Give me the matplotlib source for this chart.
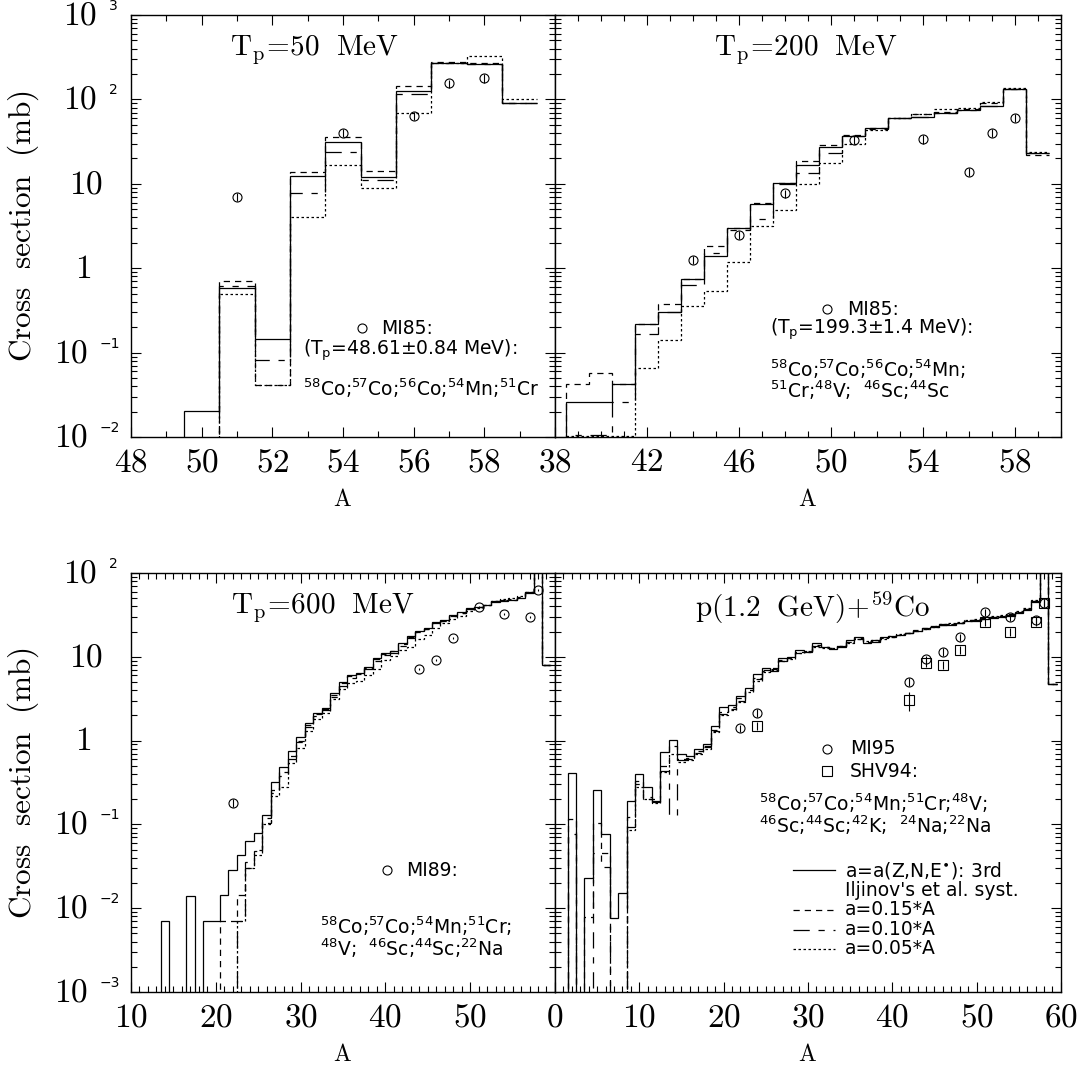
import numpy as np
import matplotlib
matplotlib.use("Agg")
import matplotlib.pyplot as plt
from matplotlib.ticker import MultipleLocator, LogLocator, NullFormatter

# serif (Computer Modern) for axes and titles, plain sans for the notes
plt.rcParams['mathtext.fontset'] = 'cm'
plt.rcParams['mathtext.rm'] = 'DejaVu Sans'
plt.rcParams['mathtext.it'] = 'DejaVu Sans:italic'
plt.rcParams['mathtext.bf'] = 'DejaVu Sans:bold'
plt.rcParams['mathtext.sf'] = 'DejaVu Sans'

# ---------------- T_p = 50 MeV ----------------
a_50 = np.arange(49, 60)
solid_50 = [0, 0.0205, 0.58, 0.144, 12.5, 31, 12.1, 127, 272, 263, 90]
d15_50 = [0, 0, 0.71, 0.041, 13.9, 35.6, 14.3, 145, 277, 270, 90]
d10_50 = [0, 0, 0.62, 0.082, 7.7, 24, 11.1, 116, 272, 265, 90]
d05_50 = [0, 0, 0.49, 0.041, 4.1, 16.7, 9.0, 70, 272, 330, 100]
mi85_50_a = [51, 54, 56, 57, 58]
mi85_50 = [7.0, 40, 64, 155, 178]
mi85_50_err = [0.8, 4.5, 7, 17, 20]

# ---------------- T_p = 200 MeV ----------------
a_200 = np.arange(38, 60)
solid_200 = [0, 0.026, 0.026, 0.042, 0.216, 0.305, 0.74, 1.41, 2.97, 5.7, 10.1,
             16.7, 27.5, 36.8, 46, 59.7, 62, 70, 75, 83.6, 132, 23]
d15_200 = [0, 0.042, 0.057, 0.042, 0.22, 0.38, 0.74, 1.83, 3.0, 5.97, 10.2,
           18.6, 28.8, 37.8, 46, 60.7, 67, 71.5, 78, 90, 132, 22]
d10_200 = [0, 0.0105, 0.0105, 0.026, 0.165, 0.30, 0.63, 1.5, 2.84, 3.8, 10,
           13.6, 23, 36.8, 45, 59.7, 62, 70, 75, 83.6, 132, 23]
d05_200 = [0, 0.0104, 0.0104, 0.0104, 0.065, 0.141, 0.356, 0.54, 1.19, 3.19, 4.9,
           9.9, 17.5, 30, 43, 60, 68, 78, 80, 94, 135, 24]
mi85_200_a = [44, 46, 48, 51, 54, 56, 57, 58]
mi85_200 = [1.25, 2.47, 7.7, 33, 33.7, 13.9, 40, 60]
mi85_200_err = [0.14, 0.27, 0.85, 3.6, 3.7, 1.5, 4.4, 6.6]

# ---------------- T_p = 600 MeV ----------------
a_600 = np.arange(13, 60)
solid_600 = [0, 0.0071, 0, 0, 0.0141, 0, 0.0071, 0.0071, 0.0143, 0.0286,
             0.043, 0.064, 0.080, 0.129, 0.323, 0.48, 0.76,
             1.11, 1.64, 2.15, 2.43, 3.66, 5.05, 6.06, 6.35, 7.63, 9.77,
             11.0, 11.8, 14.5, 17.7, 20.3, 21.9, 25.8, 27.5, 31.5, 33.9,
             37.9, 39.7, 41.5, 45.5, 46.8, 47.6, 49.9, 58.2, 119, 8.0]
d15_600 = [0, 0, 0, 0, 0, 0, 0, 0, 0.0071, 0.0071,
           0.0143, 0.030, 0.048, 0.105, 0.26, 0.42, 0.66,
           1.0, 1.55, 2.05, 2.4, 3.5, 4.8, 5.9, 6.3, 7.4, 9.5,
           10.8, 11.6, 14.2, 17.2, 20.0, 21.5, 25.2, 27.0, 31.0, 33.5,
           37.5, 39.8, 42.0, 46.0, 47.5, 48.5, 51.0, 59.0, 119, 8.0]
d10_600 = [0, 0, 0, 0, 0, 0, 0, 0, 0, 0,
           0.0071, 0.036, 0.050, 0.12, 0.24, 0.38, 0.60,
           0.95, 1.45, 1.95, 2.3, 3.3, 4.5, 5.6, 6.1, 7.2, 9.0,
           10.4, 11.2, 13.6, 16.8, 19.6, 21.2, 25.0, 26.8, 30.8, 33.2,
           37.3, 39.5, 41.8, 45.8, 47.2, 48.2, 50.5, 58.5, 119, 8.0]
d05_600 = [0, 0, 0, 0, 0, 0, 0, 0, 0, 0,
           0.0071, 0.030, 0.043, 0.10, 0.22, 0.28, 0.54,
           0.81, 1.3, 1.8, 2.15, 3.1, 4.1, 4.8, 5.2, 6.1, 7.1,
           9.2, 10.1, 11.9, 13.0, 16.5, 18.3, 21.9, 25.1, 28.5, 31.0,
           35.5, 38.5, 41.5, 46.5, 48.5, 50.5, 53.0, 60.0, 119, 8.0]
mi89_a = [22, 44, 46, 48, 51, 54, 57, 58]
mi89 = [0.18, 7.08, 9.16, 16.6, 39.6, 32, 29.6, 62.7]
mi89_err = [0.02, 0.2, 0.25, 0.45, 1.0, 0.9, 0.8, 1.7]

# ---------------- T_p = 1.2 GeV ----------------
a_1200 = np.arange(1, 60)
solid_1200 = [0, 0.414, 0, 0.0227, 0.258, 0.077, 0.0076, 0.0153, 0.19, 0.40,
              0.28, 0.187, 0.74, 1.02, 0.70, 0.65, 0.79, 0.91, 1.5, 2.54,
              2.66, 3.4, 4.28, 6.24, 7.28, 6.7, 9.6, 10.0, 12.0, 11.5,
              14.5, 13.0, 12.3, 13.0, 15.9, 17.0, 14.7, 15.1, 17.0, 17.7,
              18.2, 19.4, 20.5, 22.2, 22.9, 23.9, 24.0, 25.1, 26.7, 26.8,
              28.0, 28.8, 30.1, 30.7, 33.0, 36.2, 45.5, 108, 4.73]
d15_1200 = [0, 0.115, 0, 0.0079, 0.104, 0.046, 0, 0, 0.124, 0.33,
            0.2, 0.2, 0.5, 0.85, 0.6, 0.62, 0.75, 0.85, 1.35, 2.2,
            2.5, 3.2, 4.0, 5.6, 7.0, 7.4, 9.2, 9.8, 11.5, 11.8,
            13.8, 13.2, 12.6, 13.4, 15.2, 16.6, 15.0, 15.6, 16.8, 17.5,
            18.4, 19.0, 20.8, 21.8, 23.4, 24.2, 24.5, 25.6, 27.2, 27.5,
            28.8, 29.5, 31.0, 32.0, 34.0, 37.5, 46.5, 108, 4.73]
d10_1200 = [0, 0.076, 0, 0, 0.046, 0.031, 0, 0, 0.092, 0.3,
            0.21, 0.19, 0.43, 0.13, 0.58, 0.6, 0.72, 0.83, 1.3, 2.1,
            2.4, 3.0, 3.9, 5.4, 6.8, 7.2, 9.0, 9.6, 11.2, 11.6,
            13.5, 13.0, 12.8, 13.5, 15.0, 16.4, 15.4, 15.8, 16.6, 17.4,
            18.6, 19.2, 20.4, 21.6, 23.0, 24.4, 24.8, 25.4, 27.0, 27.8,
            28.6, 29.8, 30.6, 31.6, 34.5, 37.0, 46.0, 108, 4.73]
d05_1200 = [0, 0, 0, 0, 0, 0, 0, 0, 0.085, 0.28,
            0.2, 0.18, 0.42, 0.7, 0.55, 0.58, 0.7, 0.8, 1.25, 2.0,
            2.3, 2.9, 3.8, 5.2, 6.6, 7.0, 8.8, 9.4, 11.0, 11.4,
            13.2, 12.9, 12.9, 13.6, 14.8, 16.2, 15.6, 16.0, 16.5, 17.2,
            18.8, 19.4, 20.2, 21.4, 22.8, 24.6, 25.2, 25.8, 27.4, 28.2,
            29.0, 30.4, 31.2, 32.4, 35.0, 37.8, 47.0, 108, 4.73]
mi95_a = [22, 24, 42, 44, 46, 48, 51, 54, 57, 58]
mi95 = [1.4, 2.15, 5.05, 9.3, 11.5, 17.1, 34, 29.6, 27.5, 44.3]
mi95_err = [0.15, 0.23, 0.55, 1.0, 1.2, 1.8, 3.6, 3.1, 2.9, 4.6]
shv94_a = [24, 42, 44, 46, 48, 51, 54, 57, 58]
shv94 = [1.5, 3.05, 8.4, 8.0, 12.1, 26.2, 19.9, 26.2, 44]
shv94_err = [0.15, 0.8, 0.8, 0.8, 1.2, 2.6, 2.0, 2.6, 4.4]

# line styles of the four level-density options
LS = {
    'solid': '-',
    'd15': (0, (5, 4)),
    'd10': (0, (13, 7, 5, 7)),
    'd05': (0, (2, 2)),
}

NOTE_SIZE = 13.5


def draw_hist(ax, a, vals, ls):
    edges = np.append(np.asarray(a) - 0.5, a[-1] + 0.5)
    vals = np.where(np.asarray(vals) > 0, vals, 1e-9)
    ax.stairs(vals, edges, baseline=None, color='k', lw=0.9, linestyle=ls)


def draw_points(ax, a, vals, err, marker='o'):
    ax.errorbar(a, vals, yerr=err, fmt=marker, ms=6.5, mfc='none', mec='k',
                mew=0.8, ecolor='k', elinewidth=0.8, capsize=0)


def setup(ax, xlim, ylim, xmajor, xlabels):
    ax.set_yscale('log')
    ax.set_xlim(*xlim)
    ax.set_ylim(*ylim)
    ax.set_xticks(xmajor)
    ax.set_xticklabels([r'$\mathrm{%s}$' % s if s else '' for s in xlabels])
    ax.xaxis.set_minor_locator(MultipleLocator(1))
    ax.yaxis.set_major_locator(LogLocator(base=10, numticks=20))
    ax.yaxis.set_minor_locator(LogLocator(base=10, subs=np.arange(2, 10), numticks=20))
    ax.yaxis.set_major_formatter(NullFormatter())
    ax.yaxis.set_minor_formatter(NullFormatter())
    ax.tick_params(which='both', direction='in', top=True, right=True, width=0.8)
    ax.tick_params(which='major', length=7, labelsize=24, pad=6)
    ax.tick_params(which='minor', length=4)
    ax.tick_params(axis='y', labelleft=False)
    for sp in ax.spines.values():
        sp.set_linewidth(1.0)
    ax.text(0.5, -0.147, r'$\mathrm{A}$', transform=ax.transAxes,
            ha='center', va='center', fontsize=17)


def y_labels(ax, exps):
    # "10" with a small sans exponent
    for e in exps:
        y = 10.0 ** e
        kw = dict(xy=(0, y), xycoords=('axes fraction', 'data'),
                  textcoords='offset pixels', va='center')
        if e == 0:
            ax.annotate(r'$\mathrm{1}$', xytext=(-48, 0), ha='center', fontsize=24, **kw)
        elif e == 1:
            ax.annotate(r'$\mathrm{10}$', xytext=(-45, 0), ha='center', fontsize=24, **kw)
        else:
            shift = 0 if e > 0 else 9
            ax.annotate(r'$\mathrm{10}$', xytext=(-34 - shift, 0), ha='right', fontsize=24, **kw)
            ax.annotate(str(e).replace('-', '\u2212'), xytext=(-22 - shift, 9), ha='left',
                        fontsize=10, family='DejaVu Sans', **kw)
    ax.text(-0.255, 0.5, r'$\mathrm{Cross\ \ section\ \ (mb)}$', rotation=90,
            transform=ax.transAxes, ha='center', va='center', fontsize=22.5)


def iso(pairs):
    return ''.join(r'$^{\mathrm{%s}}$%s' % (m, el) for m, el in pairs)


def note(ax, x, y, s, **kw):
    ax.text(x, y, s, transform=ax.transAxes, fontsize=NOTE_SIZE, family='DejaVu Sans',
            math_fontfamily='custom', va='center', **kw)


def key_marker(ax, x, y, marker):
    ax.plot([x], [y], marker=marker, ms=6.5, mfc='none', mec='k', mew=0.8,
            transform=ax.transAxes, clip_on=False)


fig = plt.figure(figsize=(10.86, 10.67), dpi=100)
ax1 = fig.add_axes([0.1206, 0.5904, 0.3904, 0.3955])
ax2 = fig.add_axes([0.5110, 0.5904, 0.4659, 0.3955])
ax3 = fig.add_axes([0.1206, 0.0703, 0.3904, 0.3927])
ax4 = fig.add_axes([0.5110, 0.0703, 0.4659, 0.3927])

# --- 50 MeV ---
setup(ax1, (48, 60), (1e-2, 1e3), range(48, 61, 2),
      ['48', '50', '52', '54', '56', '58', ''])
y_labels(ax1, [-2, -1, 0, 1, 2, 3])
for vals, key in [(solid_50, 'solid'), (d15_50, 'd15'), (d10_50, 'd10'), (d05_50, 'd05')]:
    draw_hist(ax1, a_50, vals, LS[key])
draw_points(ax1, mi85_50_a, mi85_50, mi85_50_err)
ax1.text(0.434, 0.918, r'$\mathrm{T_p\!=\!50\ \ MeV}$', transform=ax1.transAxes,
         ha='center', va='center', fontsize=21)
key_marker(ax1, 0.545, 0.258, 'o')
note(ax1, 0.590, 0.258, 'MI85:')
note(ax1, 0.406, 0.206, r'(T$_\mathrm{p}$=48.61$\pm$0.84 MeV):')
note(ax1, 0.406, 0.116, iso([('58', 'Co;'), ('57', 'Co;'), ('56', 'Co;'),
                             ('54', 'Mn;'), ('51', 'Cr')]))

# --- 200 MeV ---
setup(ax2, (38, 60), (1e-2, 1e3), range(38, 60, 4),
      ['38', '42', '46', '50', '54', '58'])
for vals, key in [(solid_200, 'solid'), (d15_200, 'd15'), (d10_200, 'd10'), (d05_200, 'd05')]:
    draw_hist(ax2, a_200, vals, LS[key])
draw_points(ax2, mi85_200_a, mi85_200, mi85_200_err)
ax2.text(0.495, 0.918, r'$\mathrm{T_p\!=\!200\ \ MeV}$', transform=ax2.transAxes,
         ha='center', va='center', fontsize=21)
key_marker(ax2, 0.5375, 0.303, 'o')
note(ax2, 0.577, 0.303, 'MI85:')
note(ax2, 0.425, 0.255, r'(T$_\mathrm{p}$=199.3$\pm$1.4 MeV):')
note(ax2, 0.425, 0.161, iso([('58', 'Co;'), ('57', 'Co;'), ('56', 'Co;'), ('54', 'Mn;')]))
note(ax2, 0.425, 0.110, iso([('51', 'Cr;'), ('48', 'V;  '), ('46', 'Sc;'), ('44', 'Sc')]))

# --- 600 MeV ---
setup(ax3, (10, 60), (1e-3, 1e2), range(10, 61, 10),
      ['10', '20', '30', '40', '50', ''])
y_labels(ax3, [-3, -2, -1, 0, 1, 2])
for vals, key in [(solid_600, 'solid'), (d15_600, 'd15'), (d10_600, 'd10'), (d05_600, 'd05')]:
    draw_hist(ax3, a_600, vals, LS[key])
draw_points(ax3, mi89_a, mi89, mi89_err)
ax3.text(0.453, 0.918, r'$\mathrm{T_p\!=\!600\ \ MeV}$', transform=ax3.transAxes,
         ha='center', va='center', fontsize=21)
key_marker(ax3, 0.604, 0.291, 'o')
note(ax3, 0.650, 0.291, 'MI89:')
note(ax3, 0.446, 0.158, iso([('58', 'Co;'), ('57', 'Co;'), ('54', 'Mn;'), ('51', 'Cr;')]))
note(ax3, 0.446, 0.105, iso([('48', 'V;  '), ('46', 'Sc;'), ('44', 'Sc;'), ('22', 'Na')]))

# --- 1.2 GeV ---
setup(ax4, (0, 60), (1e-3, 1e2), range(0, 61, 10),
      ['0', '10', '20', '30', '40', '50', '60'])
for vals, key in [(solid_1200, 'solid'), (d15_1200, 'd15'), (d10_1200, 'd10'), (d05_1200, 'd05')]:
    draw_hist(ax4, a_1200, vals, LS[key])
draw_points(ax4, mi95_a, mi95, mi95_err)
draw_points(ax4, shv94_a, shv94, shv94_err, marker='s')
ax4.text(0.51, 0.918, r'$\mathrm{p(1.2\ \ GeV)\!+\!^{59}Co}$', transform=ax4.transAxes,
         ha='center', va='center', fontsize=21)
key_marker(ax4, 0.5375, 0.580, 'o')
note(ax4, 0.583, 0.580, 'MI95')
key_marker(ax4, 0.5375, 0.527, 's')
note(ax4, 0.583, 0.527, 'SHV94:')
note(ax4, 0.403, 0.450, iso([('58', 'Co;'), ('57', 'Co;'), ('54', 'Mn;'), ('51', 'Cr;'), ('48', 'V;')]))
note(ax4, 0.403, 0.398, iso([('46', 'Sc;'), ('44', 'Sc;'), ('42', 'K;  '), ('24', 'Na;'), ('22', 'Na')]))

key_rows = [
    (0.291, 'solid', r'a=a(Z,N,E$^{\bullet}$): 3rd'),
    (0.243, None, "Iljinov's et al. syst."),
    (0.196, 'd15', 'a=0.15*A'),
    (0.148, 'd10', 'a=0.10*A'),
    (0.103, 'd05', 'a=0.05*A'),
]
for y, key, label in key_rows:
    if key:
        ax4.plot([0.47, 0.553], [y, y], color='k', lw=0.9, linestyle=LS[key],
                 transform=ax4.transAxes)
    note(ax4, 0.573, y, label)

fig.savefig('out.png', dpi=100)
